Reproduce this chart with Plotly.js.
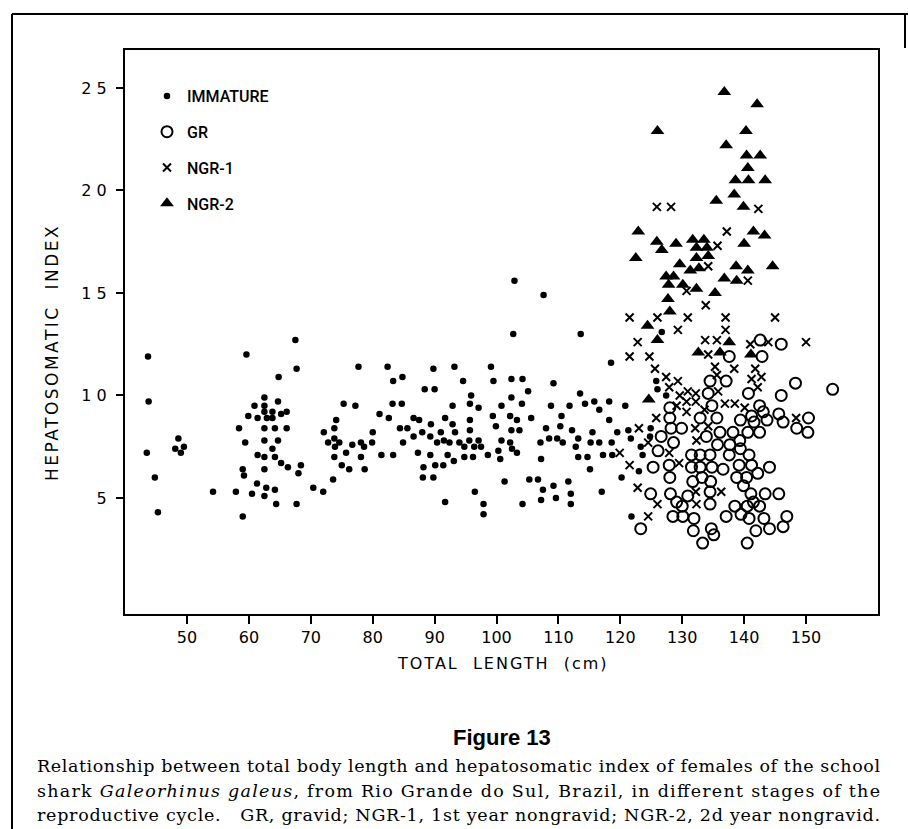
<!DOCTYPE html>
<html>
<head>
<meta charset="utf-8">
<script src="https://cdn.plot.ly/plotly-3.0.1.min.js"></script>
<style>
html,body{margin:0;padding:0;background:#fff;}
#chart{width:908px;height:829px;}
</style>
</head>
<body>
<div id="chart"></div>
<script>
// ---- Data (total length in cm, hepatosomatic index) ----
var immatureX = [43.7,43.8,43.5,44.8,45.3,48.6,48.1,49.0,49.5,54.2,57.9,59.0,59.6,58.4,59.4,59.0,59.2,59.9,60.9,61.4,60.5,61.3,61.4,62.5,62.5,62.5,62.9,63.8,63.8,62.5,64.2,62.5,63.8,62.5,64.2,62.5,62.8,62.5,64.2,64.4,64.8,64.7,65.2,66.1,64.7,66.1,65.2,66.3,67.5,67.7,68.4,68.0,67.7,70.4,72.0,72.1,72.8,73.6,73.8,74.1,73.8,73.9,73.8,74.6,75.0,75.3,75.7,76.2,76.7,77.2,77.7,78.1,78.1,78.6,78.7,80.0,79.9,81.1,81.4,82.4,82.6,83.2,83.3,83.3,84.4,84.7,84.8,84.9,85.6,86.6,86.6,87.3,87.5,88.0,88.2,88.1,88.4,89.4,89.3,89.3,89.8,90.0,89.8,90.1,90.4,91.0,91.4,91.5,91.7,91.7,92.4,92.1,92.9,93.3,92.9,93.2,93.1,94.0,94.6,94.8,94.8,95.6,95.7,95.7,95.7,95.9,96.2,96.4,97.1,97.1,97.5,97.9,97.9,96.5,98.6,99.1,99.5,99.4,99.9,100.3,100.6,100.8,100.8,101.3,102.2,102.2,102.4,102.4,102.4,102.5,102.9,102.7,103.3,103.3,103.7,104.1,104.2,104.2,105.1,105.3,105.6,106.7,107.1,107.2,107.2,107.5,107.6,108.0,108.5,108.8,109.2,109.2,109.6,109.8,110.3,110.5,110.7,111.6,111.8,112.0,112.0,112.2,112.8,113.2,113.2,113.5,113.6,114.3,114.7,115.1,115.2,115.5,115.8,116.6,116.6,117.0,117.2,118.2,118.2,118.5,118.6,118.7,119.5,120.2,120.8,121.3,121.7,121.8,123.0,123.3,126.7,125.8,126.0,127.4,124.9,124.8,123.6];
var immatureY = [11.9,9.7,7.2,6.0,4.3,7.9,7.4,7.2,7.5,5.3,5.3,4.1,12.0,8.4,7.7,6.4,6.1,9.0,9.5,8.9,5.2,5.7,7.1,9.9,9.5,9.2,8.9,9.2,8.9,8.4,8.4,7.8,7.4,7.0,7.0,6.4,5.5,5.1,5.4,4.7,10.9,9.7,9.1,9.2,7.8,8.4,6.7,6.5,12.7,11.3,6.6,6.2,4.7,5.5,5.3,8.2,7.7,5.9,8.4,8.8,7.9,7.5,7.0,7.7,6.6,9.6,7.2,6.4,7.6,9.5,11.4,7.7,7.0,7.5,6.4,8.2,7.7,9.1,7.1,11.4,8.9,9.6,10.7,7.1,8.4,9.6,10.9,7.7,8.4,8.9,8.0,7.2,8.8,8.2,6.5,6.0,10.3,8.6,8.0,7.1,11.3,10.3,6.0,6.6,7.7,8.2,6.6,7.8,8.9,4.8,7.7,7.1,8.6,8.2,9.5,11.4,6.8,7.7,10.7,7.5,7.0,7.8,8.3,8.8,9.6,10.0,7.0,7.5,7.8,9.4,7.5,4.7,4.2,5.3,7.1,11.4,10.7,9.0,8.5,7.3,6.9,7.8,9.5,5.8,9.0,7.7,9.9,10.8,8.3,7.4,15.6,13.0,8.8,7.2,8.3,9.6,10.8,4.7,10.2,5.9,8.9,5.9,7.7,6.9,4.9,5.4,14.9,8.4,7.9,9.5,10.6,5.6,5.0,7.9,8.5,9.0,7.7,5.8,9.5,4.7,5.2,8.3,7.5,7.9,7.0,10.1,13.0,9.6,7.0,6.4,7.7,8.2,9.7,7.7,9.3,5.3,7.1,9.7,8.8,11.6,7.7,7.1,8.2,6.0,9.5,8.3,7.9,4.1,6.3,7.5,13.1,10.7,10.3,10.0,8.4,8.0,7.1];

var grX = [142.6,146.0,137.6,142.9,134.5,137.1,134.2,140.7,146.0,148.3,154.3,134.8,128.0,142.5,143.1,128.0,132.9,135.6,139.4,141.2,141.6,143.7,145.6,146.3,150.4,128.2,129.9,126.6,128.6,133.9,136.1,138.2,140.6,142.5,148.5,150.3,135.7,137.7,139.3,139.4,126.1,131.5,132.9,134.5,137.6,140.8,125.3,127.9,131.5,132.9,134.8,136.6,139.2,141.2,144.1,142.2,128.0,131.7,133.2,138.8,140.4,134.6,139.9,124.9,128.1,130.9,134.5,141.1,143.4,145.6,129.1,130.0,134.5,138.5,141.5,142.5,140.5,128.5,130.1,131.9,137.1,139.5,140.8,143.2,146.9,146.3,144.1,141.9,123.3,131.8,134.7,135.1,133.3,140.5];
var grY = [12.7,12.5,11.9,11.9,10.7,10.7,10.1,10.1,10.0,10.6,10.3,9.5,9.4,9.5,9.2,8.9,8.9,8.9,8.8,9.0,8.7,8.8,9.1,8.7,8.9,8.4,8.4,8.0,7.7,8.0,8.2,8.2,8.2,8.2,8.4,8.2,7.6,7.6,7.8,7.4,7.3,7.1,7.1,7.1,7.1,7.1,6.5,6.6,6.5,6.5,6.5,6.4,6.6,6.6,6.5,6.2,6.0,5.8,6.0,6.0,6.0,5.8,5.6,5.2,5.2,5.1,5.3,5.2,5.2,5.2,4.8,4.6,4.7,4.6,4.8,4.6,4.6,4.1,4.1,4.0,4.1,4.2,4.0,4.0,4.1,3.6,3.5,3.4,3.5,3.4,3.5,3.2,2.8,2.8];

var ngr1X = [125.9,128.2,142.3,137.2,135.7,134.2,140.6,130.7,133.8,121.5,126.0,130.9,137.0,145.0,129.3,137.0,122.8,133.7,135.6,141.0,143.9,150.0,121.5,124.7,134.2,125.6,135.3,138.4,141.8,127.4,129.3,135.6,141.2,142.8,127.9,129.6,130.9,132.2,142.2,135.8,129.1,130.7,132.2,130.7,133.6,136.9,138.5,140.1,125.8,132.1,134.2,123.0,148.4,124.5,132.3,119.9,127.9,129.5,121.5,122.8,132.2,136.3,126.0,132.3,124.5];
var ngr1Y = [19.2,19.2,19.1,18.0,17.3,16.3,15.6,15.1,14.4,13.8,13.8,13.8,13.8,13.8,13.2,13.2,12.6,12.7,12.7,12.5,12.6,12.6,11.9,11.9,12.0,11.3,11.4,11.3,11.3,10.9,10.7,11.0,10.8,10.9,10.4,10.0,10.2,10.1,10.4,10.2,9.5,9.7,9.7,9.2,9.3,9.6,9.6,9.4,8.9,8.4,8.5,8.4,8.9,7.7,7.8,7.2,7.2,6.7,6.6,5.5,5.3,5.3,4.7,4.7,4.1];

var ngr2X = [136.8,142.1,126.0,140.3,137.1,140.4,142.6,140.6,138.6,140.7,143.4,138.4,135.5,139.9,122.9,141.5,143.3,125.9,129.0,126.7,131.7,133.5,140.0,132.3,134.0,122.5,132.3,134.2,129.6,131.3,132.7,138.7,140.6,144.6,127.4,128.6,127.8,130.1,136.8,138.8,132.3,135.3,127.7,128.0,124.4,126.0,132.6,136.1,137.6,141.1,124.6];
var ngr2Y = [24.8,24.2,22.9,22.9,22.2,21.7,21.7,21.1,20.5,20.5,20.5,19.8,19.5,19.2,18.0,18.0,17.8,17.5,17.4,17.1,17.6,17.6,17.4,17.2,17.2,16.7,16.7,16.8,16.4,16.1,16.2,16.3,16.1,16.3,15.8,15.8,15.4,15.4,15.7,15.6,15.2,15.0,14.7,14.1,13.4,12.7,12.1,12.1,12.6,12.0,9.8];

var seriesNames = ['IMMATURE', 'GR', 'NGR-1', 'NGR-2'];
var xTickVals = [50,60,70,80,90,100,110,120,130,140,150];
var xTickText = ['50','60','70','80','90','100','110','120','130','140','150'];
var yTickVals = [5,10,15,20,25];
var yTickText = ['5','1 0','1 5','2 0','2 5'];

var captionLines = [
  'Relationship between total body length and hepatosomatic index of females of the school',
  'shark <i>Galeorhinus galeus</i>, from Rio Grande do Sul, Brazil, in different stages of the',
  'reproductive cycle.   GR, gravid; NGR-1, 1st year nongravid; NGR-2, 2d year nongravid.'
];

// ---- Traces ----
var data = [
  {x: immatureX, y: immatureY, name: seriesNames[0], legendgroup: 'a', type: 'scatter', mode: 'markers',
   marker: {symbol: 'circle', size: 6.5, color: '#000'}},
  {x: grX, y: grY, name: seriesNames[1], legendgroup: 'b', type: 'scatter', mode: 'markers',
   marker: {symbol: 'circle-open', size: 11, color: '#000', line: {width: 2, color: '#000'}}},
  {x: ngr1X, y: ngr1Y, name: seriesNames[2], legendgroup: 'c', type: 'scatter', mode: 'markers',
   marker: {symbol: 'x-thin', size: 8, color: '#000', line: {width: 2, color: '#000'}}},
  {x: ngr2X, y: ngr2Y, name: seriesNames[3], legendgroup: 'd', type: 'scatter', mode: 'markers',
   marker: {symbol: 'triangle-up', size: 12, color: '#000'}}
];

var L = 125, R = 878, T = 50, B = 614;
function px(xp){ return (xp - L) / (R - L); }
function py(yp){ return (B - yp) / (B - T); }

var lineStyle = {color: '#000', width: 2};

var layout = {
  width: 908, height: 829,
  margin: {l: L, r: 908 - R, t: T, b: 829 - B, pad: 0},
  paper_bgcolor: '#fff', plot_bgcolor: '#fff',
  showlegend: true,
  legend: {
    x: px(147), y: py(79), xanchor: 'left', yanchor: 'top',
    bgcolor: 'rgba(0,0,0,0)', borderwidth: 0,
    traceorder: 'grouped', tracegroupgap: 12,
    font: {family: 'Roboto, "DejaVu Sans", sans-serif', size: 16, weight: 500, color: '#000'}
  },
  xaxis: {
    range: [39.98, 161.63], showgrid: false, zeroline: false,
    showline: true, mirror: true, linecolor: '#000', linewidth: 2,
    ticks: 'outside', ticklen: 8, tickwidth: 2, tickcolor: '#000',
    tickvals: xTickVals, ticktext: xTickText,
    tickfont: {family: '"DejaVu Sans", sans-serif', size: 16, color: '#000'}
  },
  yaxis: {
    range: [-0.66, 26.85], showgrid: false, zeroline: false,
    showline: true, mirror: true, linecolor: '#000', linewidth: 2,
    ticks: 'outside', ticklen: 7, tickwidth: 2, tickcolor: '#000',
    tickvals: yTickVals, ticktext: yTickText,
    ticklabelstandoff: 6,
    tickfont: {family: '"DejaVu Sans", sans-serif', size: 16, color: '#000'}
  },
  shapes: [
    {type: 'line', xref: 'paper', yref: 'paper', x0: px(12), x1: px(908), y0: py(14), y1: py(14), line: lineStyle},
    {type: 'line', xref: 'paper', yref: 'paper', x0: px(12), x1: px(12), y0: py(14), y1: py(829), line: lineStyle},
    {type: 'line', xref: 'paper', yref: 'paper', x0: px(905), x1: px(905), y0: py(14), y1: py(48), line: lineStyle}
  ],
  annotations: [
    {text: 'HEPATOSOMATIC  INDEX', xref: 'paper', yref: 'paper', x: px(52), y: py(352),
     xanchor: 'center', yanchor: 'middle', textangle: -90, showarrow: false,
     font: {family: '"DejaVu Sans", sans-serif', size: 17, color: '#000'}},
    {text: 'TOTAL  LENGTH  (cm)', xref: 'paper', yref: 'paper', x: px(503), y: py(663),
     xanchor: 'center', yanchor: 'middle', showarrow: false,
     font: {family: '"DejaVu Sans", sans-serif', size: 16, color: '#000'}},
    {text: '<b>Figure 13</b>', xref: 'paper', yref: 'paper', x: px(502), y: py(737),
     xanchor: 'center', yanchor: 'middle', showarrow: false,
     font: {family: '"Liberation Sans", Arial, sans-serif', size: 22, color: '#000'}},
    {text: captionLines[0], xref: 'paper', yref: 'paper', x: px(35), y: py(766),
     xanchor: 'left', yanchor: 'middle', align: 'left', showarrow: false,
     font: {family: '"DejaVu Serif", serif', size: 17.5, color: '#000'}},
    {text: captionLines[1], xref: 'paper', yref: 'paper', x: px(35), y: py(791),
     xanchor: 'left', yanchor: 'middle', align: 'left', showarrow: false,
     font: {family: '"DejaVu Serif", serif', size: 17.5, color: '#000'}},
    {text: captionLines[2], xref: 'paper', yref: 'paper', x: px(35), y: py(815),
     xanchor: 'left', yanchor: 'middle', align: 'left', showarrow: false,
     font: {family: '"DejaVu Serif", serif', size: 17.5, color: '#000'}}
  ]
};

Plotly.newPlot('chart', data, layout, {staticPlot: true, displayModeBar: false}).then(function(gd){
  var spacing = {0: '2.5px', 1: '2px'};
  var justify = {3: 843, 4: 843, 5: 843};
  gd.querySelectorAll('g.annotation').forEach(function(g){
    var i = +g.getAttribute('data-index');
    var t = g.querySelector('text.annotation-text');
    if (!t) return;
    if (spacing[i]) t.style.letterSpacing = spacing[i];
    if (justify[i]) { t.setAttribute('textLength', justify[i]); t.setAttribute('lengthAdjust', 'spacing'); }
  });
});
</script>
</body>
</html>
